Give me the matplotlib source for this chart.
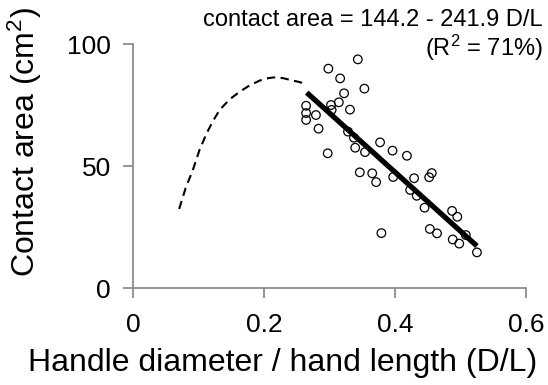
import matplotlib
matplotlib.use("Agg")
import numpy as np
import matplotlib.pyplot as plt

plt.rcParams['font.family'] = ['Liberation Sans', 'DejaVu Sans']
plt.rcParams['mathtext.fontset'] = 'custom'
plt.rcParams['mathtext.rm'] = 'Liberation Sans'
plt.rcParams['mathtext.it'] = 'Liberation Sans'

# measured points: handle diameter / hand length vs contact area (cm2)
dl = [0.343, 0.298, 0.316, 0.353, 0.322, 0.314, 0.302, 0.264, 0.303, 0.331,
      0.264, 0.279, 0.264, 0.283, 0.328, 0.337, 0.377, 0.339, 0.396, 0.354,
      0.297, 0.418, 0.346, 0.365, 0.456, 0.452, 0.397, 0.429, 0.371, 0.423,
      0.433, 0.445, 0.487, 0.495, 0.453, 0.464, 0.379, 0.508, 0.488, 0.498,
      0.525]
area = [93.7, 89.9, 85.9, 81.7, 79.8, 76.1, 75.0, 74.7, 73.0, 73.1,
        71.7, 70.9, 68.9, 65.3, 64.1, 61.6, 59.7, 57.5, 56.3, 55.7,
        55.2, 54.2, 47.4, 47.0, 47.1, 45.4, 45.5, 45.0, 43.4, 40.2,
        37.8, 32.9, 31.6, 29.2, 24.2, 22.4, 22.5, 21.7, 19.9, 18.2,
        14.6]

# dashed curve
curve_x = [0.070, 0.080, 0.091, 0.101, 0.112, 0.122, 0.132, 0.147, 0.163,
           0.178, 0.193, 0.204, 0.214, 0.229, 0.244, 0.254, 0.264]
curve_y = [32.4, 41.0, 48.4, 56.5, 63.4, 68.6, 73.0, 77.3, 80.5,
           83.1, 85.0, 85.9, 86.3, 86.0, 85.0, 84.4, 83.6]

# regression line end points
fit_x = [0.265, 0.525]
fit_y = [144.2 - 241.9 * x for x in fit_x]

fig = plt.figure(figsize=(5.48, 3.85), dpi=100)
ax = fig.add_axes([0.2433, 0.2519, 0.7166, 0.6338])

ax.plot(curve_x, curve_y, color='black', lw=1.5, ls=(0, (4, 2.6)))
ax.plot(fit_x, fit_y, color='black', lw=3.8, solid_capstyle='butt')
ax.scatter(dl, area, s=38, facecolors='none', edgecolors='black',
           linewidths=0.9, zorder=3)

ax.set_xlim(0, 0.6)
ax.set_ylim(0, 100)
ax.set_xticks([0, 0.2, 0.4, 0.6])
ax.set_xticklabels(['0', '0.2', '0.4', '0.6'])
ax.set_yticks([0, 50, 100])

for s in ['top', 'right']:
    ax.spines[s].set_visible(False)
for s in ['left', 'bottom']:
    ax.spines[s].set_color('#8c8c8c')
    ax.spines[s].set_linewidth(1.3)
ax.tick_params(colors='#8c8c8c', labelcolor='black', length=7, width=1.3,
               labelsize=19)
ax.tick_params(axis='y', pad=9)
ax.tick_params(axis='x', pad=11)

fig.text(283 / 548, 1 - 363 / 385, 'Handle diameter / hand length (D/L)',
         ha='center', va='center', fontsize=23)
fig.text(25 / 548, 1 - 142 / 385, 'Contact area (cm$^2$)', rotation=90,
         ha='center', va='center', fontsize=23)

fig.text(543 / 548, 1 - 26 / 385, 'contact area = 144.2 - 241.9 D/L',
         ha='right', va='baseline', fontsize=17)
fig.text(543 / 548, 1 - 56 / 385, '(R$^2$ = 71%)',
         ha='right', va='baseline', fontsize=17)

fig.savefig('out.png', dpi=100)
